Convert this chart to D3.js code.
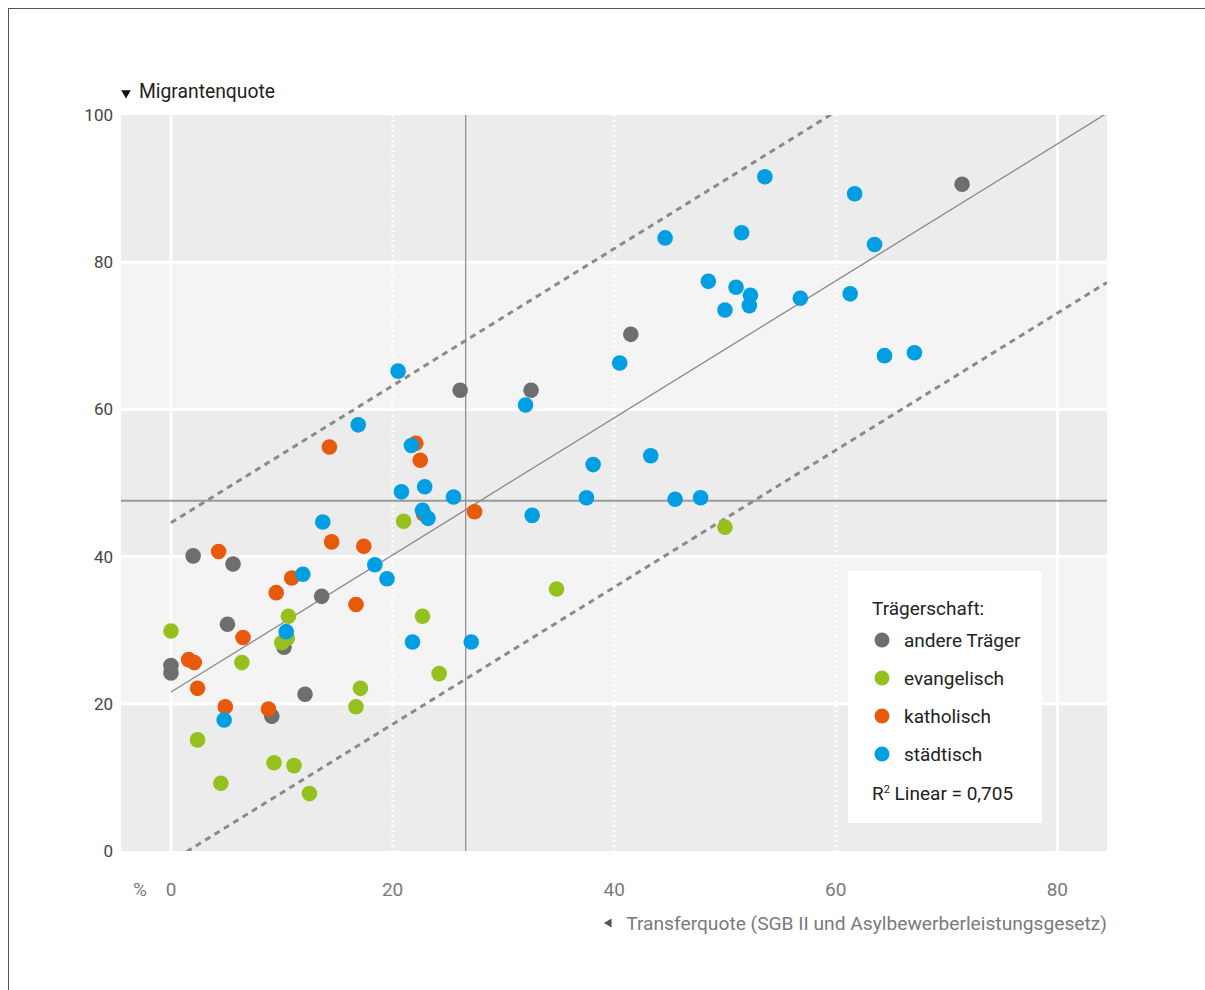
<!DOCTYPE html>
<html>
<head>
<meta charset="utf-8">
<script src="https://cdn.jsdelivr.net/npm/d3@7"></script>
<style>
  html, body { margin: 0; padding: 0; background: #fff; }
  svg { display: block; font-family: Roboto, "Noto Sans", sans-serif; }
</style>
</head>
<body>
<svg id="chart" width="1205" height="990"></svg>
<script>
// ---- data ----
const categories = ["andere Träger", "evangelisch", "katholisch", "städtisch"];
const colors = ["#6e6e6e", "#95c11f", "#e8590c", "#009fe3"];

const andereX = [26.1, 32.5, 41.5, 71.4, 2.0, 5.6, 13.6, 5.1, 10.2, 0.0, 0.0, 12.1, 9.1];
const andereY = [62.6, 62.6, 70.2, 90.6, 40.1, 39.0, 34.6, 30.8, 27.7, 25.2, 24.2, 21.3, 18.3];

const evangX = [21.0, 0.0, 10.6, 10.0, 10.5, 6.4, 22.7, 24.2, 17.1, 16.7, 2.4, 9.3, 11.1, 4.5, 12.5, 34.8, 50.0];
const evangY = [44.8, 29.9, 31.9, 28.3, 28.9, 25.6, 31.9, 24.1, 22.1, 19.6, 15.1, 12.0, 11.6, 9.2, 7.8, 35.6, 44.0];

const kathX = [14.3, 22.1, 22.5, 27.4, 22.8, 4.3, 14.5, 17.4, 10.9, 9.5, 16.7, 6.5, 1.6, 2.1, 2.4, 4.9, 8.8];
const kathY = [54.9, 55.4, 53.1, 46.1, 45.8, 40.7, 42.0, 41.4, 37.1, 35.1, 33.5, 29.0, 26.0, 25.6, 22.1, 19.6, 19.3];

const staedtX = [20.5, 16.9, 21.7, 20.8, 22.9, 25.5, 22.7, 23.2, 13.7, 18.4, 19.5, 11.9, 10.4, 21.8, 27.1, 4.8,
                 32.0, 32.6, 37.5, 38.1, 40.5, 43.3, 45.5, 47.8, 53.6, 61.7, 44.6, 51.5, 63.5, 48.5, 51.0, 52.3,
                 52.2, 50.0, 56.8, 61.3, 64.4, 67.1];
const staedtY = [65.2, 57.9, 55.1, 48.8, 49.5, 48.1, 46.3, 45.2, 44.7, 38.9, 37.0, 37.6, 29.8, 28.4, 28.4, 17.8,
                 60.6, 45.6, 48.0, 52.5, 66.3, 53.7, 47.8, 48.0, 91.6, 89.3, 83.3, 84.0, 82.4, 77.4, 76.6, 75.5,
                 74.1, 73.5, 75.1, 75.7, 67.3, 67.7];

const xTicks = [0, 20, 40, 60, 80];
const yTicks = [0, 20, 40, 60, 80, 100];
const meanX = 26.6;
const meanY = 47.6;
const regIntercept = 21.6;
const regSlope = 0.931;
const bandOffset = 23;
const r2Text = "0,705";

const seriesX = [andereX, evangX, kathX, staedtX];
const seriesY = [andereY, evangY, kathY, staedtY];

// ---- layout ----
const svg = d3.select("#chart");
const plot = { left: 121, right: 1107, top: 115, bottom: 851 };
const x = d3.scaleLinear().domain([-4.51, 84.48]).range([plot.left, plot.right]);
const y = d3.scaleLinear().domain([0, 100]).range([plot.bottom, plot.top]);

// frame
svg.append("rect").attr("x", 8.5).attr("y", 8.5).attr("width", 1300).attr("height", 1200)
  .attr("fill", "none").attr("stroke", "#555").attr("stroke-width", 1);

// clip
svg.append("defs").append("clipPath").attr("id", "clip")
  .append("rect").attr("x", plot.left).attr("y", plot.top)
  .attr("width", plot.right - plot.left).attr("height", plot.bottom - plot.top);

// bands
const bands = d3.pairs(yTicks);
svg.append("g").selectAll("rect").data(bands).join("rect")
  .attr("x", plot.left).attr("width", plot.right - plot.left)
  .attr("y", d => y(d[1])).attr("height", d => y(d[0]) - y(d[1]))
  .attr("fill", (d, i) => i % 2 === 0 ? "#ececec" : "#f4f4f4");

// horizontal grid
svg.append("g").selectAll("line").data(yTicks.filter(v => v > 0 && v < 100)).join("line")
  .attr("x1", plot.left).attr("x2", plot.right)
  .attr("y1", d => y(d)).attr("y2", d => y(d))
  .attr("stroke", "#fff").attr("stroke-width", 3);

// vertical grid
svg.append("g").selectAll("line").data(xTicks).join("line")
  .attr("x1", d => x(d)).attr("x2", d => x(d))
  .attr("y1", plot.top).attr("y2", plot.bottom)
  .attr("stroke", "#fff")
  .attr("stroke-width", d => (d === 0 || d === 80) ? 3 : 2.5)
  .attr("stroke-dasharray", d => (d === 0 || d === 80) ? null : "2,3");

const g = svg.append("g").attr("clip-path", "url(#clip)");

// mean lines
g.append("line").attr("x1", x(meanX)).attr("x2", x(meanX)).attr("y1", plot.top).attr("y2", plot.bottom)
  .attr("stroke", "#8f8f8f").attr("stroke-width", 1.3);
g.append("line").attr("x1", plot.left).attr("x2", plot.right).attr("y1", y(meanY)).attr("y2", y(meanY))
  .attr("stroke", "#9a9a9a").attr("stroke-width", 2);

// regression lines
const x0 = x.domain()[0], x1 = x.domain()[1];
function lineFor(off) {
  return [[x0, regIntercept + off + regSlope * x0], [x1, regIntercept + off + regSlope * x1]];
}
const lineGen = d3.line().x(d => x(d[0])).y(d => y(d[1]));
const regStart = 0;
g.append("path").attr("d", lineGen([[regStart, regIntercept + regSlope * regStart], [x1, regIntercept + regSlope * x1]]))
  .attr("fill", "none").attr("stroke", "#888").attr("stroke-width", 1.3);
g.append("path").attr("d", lineGen([[0, regIntercept + bandOffset], [x1, regIntercept + bandOffset + regSlope * x1]]))
  .attr("fill", "none").attr("stroke", "#8a8a8a").attr("stroke-width", 3).attr("stroke-dasharray", "6,5");
g.append("path").attr("d", lineGen(lineFor(-bandOffset)))
  .attr("fill", "none").attr("stroke", "#8a8a8a").attr("stroke-width", 3).attr("stroke-dasharray", "6,5");

// points
seriesX.forEach((xs, si) => {
  const pts = xs.map((v, i) => [v, seriesY[si][i]]);
  svg.append("g").selectAll("circle").data(pts).join("circle")
    .attr("cx", d => x(d[0])).attr("cy", d => y(d[1])).attr("r", 7.8)
    .attr("fill", colors[si]);
});

// y axis labels
svg.append("g").selectAll("text").data(yTicks).join("text")
  .attr("x", 113).attr("y", d => y(d)).attr("dy", "0.35em")
  .attr("text-anchor", "end").attr("font-size", 17).attr("fill", "#444")
  .text(d => d);

// x axis labels
svg.append("g").selectAll("text").data(xTicks).join("text")
  .attr("x", d => x(d)).attr("y", 889).attr("dy", "0.35em")
  .attr("text-anchor", "middle").attr("font-size", 19).attr("fill", "#7a7a7a")
  .text(d => d);
svg.append("text").attr("x", 140).attr("y", 889).attr("dy", "0.35em")
  .attr("text-anchor", "middle").attr("font-size", 19).attr("fill", "#7a7a7a").text("%");

// y title
svg.append("path").attr("d", d3.symbol().type(d3.symbolTriangle).size(40)())
  .attr("transform", "translate(126,93) rotate(180)").attr("fill", "#111");
svg.append("text").attr("x", 139).attr("y", 91).attr("dy", "0.35em")
  .attr("font-size", 19.3).attr("fill", "#222").text("Migrantenquote");

// x title
svg.append("text").attr("x", 1107).attr("y", 923).attr("dy", "0.35em")
  .attr("text-anchor", "end").attr("font-size", 19.2).attr("fill", "#7a7a7a")
  .text("Transferquote (SGB II und Asylbewerberleistungsgesetz)");
svg.append("path").attr("d", d3.symbol().type(d3.symbolTriangle).size(34)())
  .attr("transform", "translate(609,923) rotate(-90)").attr("fill", "#555");

// legend
const lg = svg.append("g");
lg.append("rect").attr("x", 848).attr("y", 571).attr("width", 194).attr("height", 252).attr("fill", "#fff");
lg.append("text").attr("x", 872).attr("y", 608).attr("dy", "0.35em").attr("font-size", 19).attr("fill", "#222")
  .text("Trägerschaft:");
const legY = [640, 678, 716, 754];
categories.forEach((c, i) => {
  lg.append("circle").attr("cx", 882).attr("cy", legY[i]).attr("r", 7.5).attr("fill", colors[i]);
  lg.append("text").attr("x", 904).attr("y", legY[i]).attr("dy", "0.35em").attr("font-size", 19)
    .attr("fill", "#222").text(c);
});
const rt = lg.append("text").attr("x", 872).attr("y", 793).attr("dy", "0.35em").attr("font-size", 19).attr("fill", "#222");
rt.append("tspan").text("R");
rt.append("tspan").attr("font-size", 11).attr("dy", "-0.6em").text("2");
rt.append("tspan").attr("dy", "0.38em").text(" Linear = " + r2Text);
</script>
</body>
</html>
